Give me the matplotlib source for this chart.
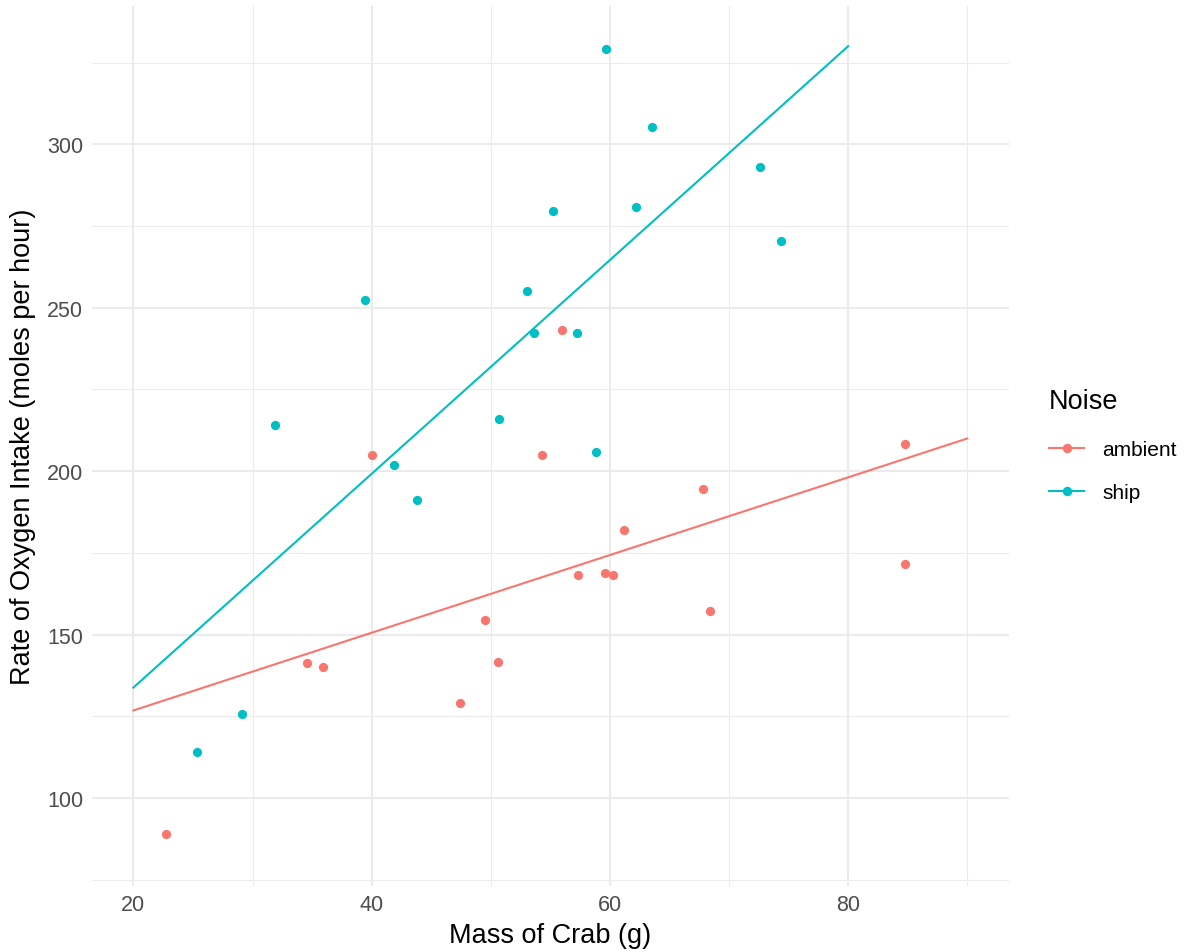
import matplotlib
matplotlib.use("Agg")
import matplotlib.pyplot as plt
from matplotlib.lines import Line2D
from matplotlib.ticker import MultipleLocator

plt.rcParams['font.family'] = ['Liberation Sans', 'DejaVu Sans']

# ---- data ----
ambient_mass = [56.0, 40.0, 54.3, 84.8, 67.8, 61.2, 57.3, 59.6, 60.3, 84.8,
                68.4, 49.5, 34.6, 35.9, 50.6, 47.4, 22.7]
ambient_rate = [243.3, 205.0, 204.8, 208.3, 194.5, 181.9, 168.1, 169.0, 168.1, 171.5,
                157.2, 154.6, 141.2, 140.0, 141.7, 129.2, 89.1]

ship_mass = [59.7, 63.5, 72.6, 55.2, 62.2, 74.4, 39.4, 53.0, 53.6, 57.2,
             31.9, 50.7, 58.8, 41.9, 43.8, 25.3, 29.1]
ship_rate = [329.0, 305.3, 293.2, 279.6, 280.7, 270.5, 252.3, 255.0, 242.3, 242.3,
             214.0, 215.9, 205.9, 202.0, 191.3, 114.0, 125.6]

# fitted lines (endpoints)
ambient_fit_x = [20, 90]
ambient_fit_y = [126.8, 210.0]
ship_fit_x = [20, 80]
ship_fit_y = [133.8, 330.0]

groups = ['ambient', 'ship']
colors = {'ambient': '#F8766D', 'ship': '#00BFC4'}

x_ticks = [20, 40, 60, 80]
y_ticks = [100, 150, 200, 250, 300]

# ---- figure ----
fig = plt.figure(figsize=(11.88, 9.53), dpi=100)
ax = fig.add_axes([91.7 / 1188, 1 - 887 / 953, (1009 - 91.7) / 1188, (887 - 7) / 953])

ax.set_xlim(16.5, 93.5)
ax.set_ylim(73.1, 342.3)

ax.xaxis.set_major_locator(MultipleLocator(20))
ax.xaxis.set_minor_locator(MultipleLocator(10))
ax.yaxis.set_major_locator(MultipleLocator(50))
ax.yaxis.set_minor_locator(MultipleLocator(25))
ax.set_xticks(x_ticks)
ax.set_yticks(y_ticks)

ax.grid(which='major', color='#EBEBEB', linewidth=1.5)
ax.grid(which='minor', color='#EBEBEB', linewidth=0.75)
ax.set_axisbelow(True)
for s in ax.spines.values():
    s.set_visible(False)
ax.tick_params(which='both', length=0, labelsize=15.5, labelcolor='#4D4D4D', pad=6)

ax.plot(ambient_fit_x, ambient_fit_y, color=colors['ambient'], lw=1.5, zorder=2)
ax.plot(ship_fit_x, ship_fit_y, color=colors['ship'], lw=1.5, zorder=2)
ax.scatter(ambient_mass, ambient_rate, s=44, color=colors['ambient'], lw=0, zorder=3)
ax.scatter(ship_mass, ship_rate, s=44, color=colors['ship'], lw=0, zorder=3)

ax.set_xlabel('Mass of Crab (g)', fontsize=19.5, color='black', labelpad=5)
ax.set_ylabel('Rate of Oxygen Intake (moles per hour)', fontsize=19.5, color='black', labelpad=8)

handles = [Line2D([0], [0], color=colors[g], lw=1.5, marker='o', markersize=6.8,
                  markeredgewidth=0) for g in groups]
leg = fig.legend(handles, groups, title='Noise', loc='upper left',
                 bbox_to_anchor=(1049 / 1188, 1 - 389 / 953), frameon=False,
                 fontsize=15, title_fontsize=19.5, handlelength=1.7,
                 labelspacing=1.15, handletextpad=0.85, borderaxespad=0,
                 borderpad=0)
leg._legend_box.align = 'left'
leg._legend_box.sep = 19

fig.savefig('out.png', dpi=100)
